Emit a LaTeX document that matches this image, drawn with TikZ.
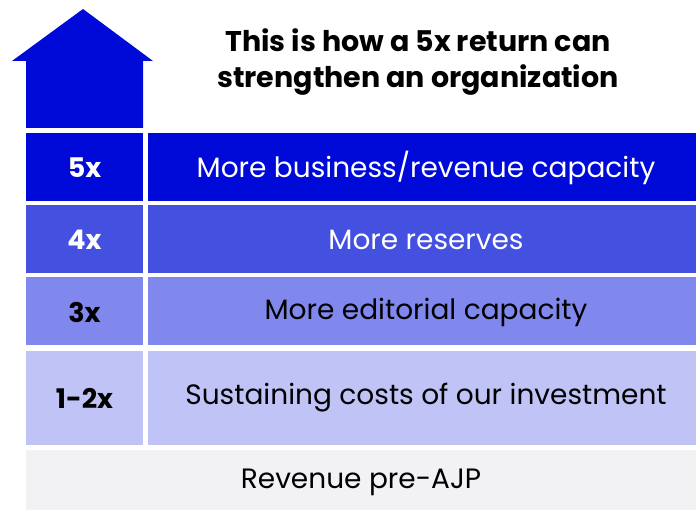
\documentclass[tikz,border=0pt]{standalone}
\usepackage{fontspec}
\setmainfont{Poppins}
\definecolor{c5}{HTML}{000AD8}
\definecolor{c4}{HTML}{4450E0}
\definecolor{c3}{HTML}{8087ED}
\definecolor{c2}{HTML}{C0C3F5}
\definecolor{c1}{HTML}{F2F2F5}
\begin{document}
\begin{tikzpicture}[x=1pt,y=-1pt,
  cell/.style={inner sep=0pt,outer sep=0pt,draw=none,font=\fontsize{28}{32}\selectfont},
  lab/.style={cell,font=\fontsize{27}{32}\selectfont\bfseries}]
\useasboundingbox (0,0) rectangle (696,510);
\fill[c5] (83,9) -- (153,61) -- (143,61) -- (143,128) -- (26,128) -- (26,61) -- (12,61) -- cycle;
\node[font=\fontsize{28.5}{36}\selectfont\bfseries,align=center] (title) at (418,62) {This is how a 5x return can\\strengthen an organization};
% row 5x
\fill[c5] (26,133) rectangle (143,201);
\node[lab,text=white] (l5) at (84.5,168) {5x};
\fill[c5] (148,133) rectangle (696,201);
\node[cell,text=white] (r5) at (426,168) {More business/revenue capacity};
% row 4x
\fill[c4] (26,205) rectangle (143,273);
\node[lab,text=white] (l4) at (84.5,240) {4x};
\fill[c4] (148,205) rectangle (696,273);
\node[cell,text=white] (r4) at (426,240) {More reserves};
% row 3x
\fill[c3] (26,277) rectangle (143,345);
\node[lab,text=black] (l3) at (84.5,312) {3x};
\fill[c3] (148,277) rectangle (696,345);
\node[cell,text=black] (r3) at (426,312) {More editorial capacity};
% row 1-2x
\fill[c2] (26,351) rectangle (143,445);
\node[lab,text=black] (l2) at (84.5,398) {1-2x};
\fill[c2] (148,351) rectangle (696,445);
\node[cell,text=black] (r2) at (426,398) {Sustaining costs of our investment};
% revenue
\fill[c1] (26,450) rectangle (696,510);
\node[cell,text=black] (r1) at (361,482) {Revenue pre-AJP};
\end{tikzpicture}
\end{document}
